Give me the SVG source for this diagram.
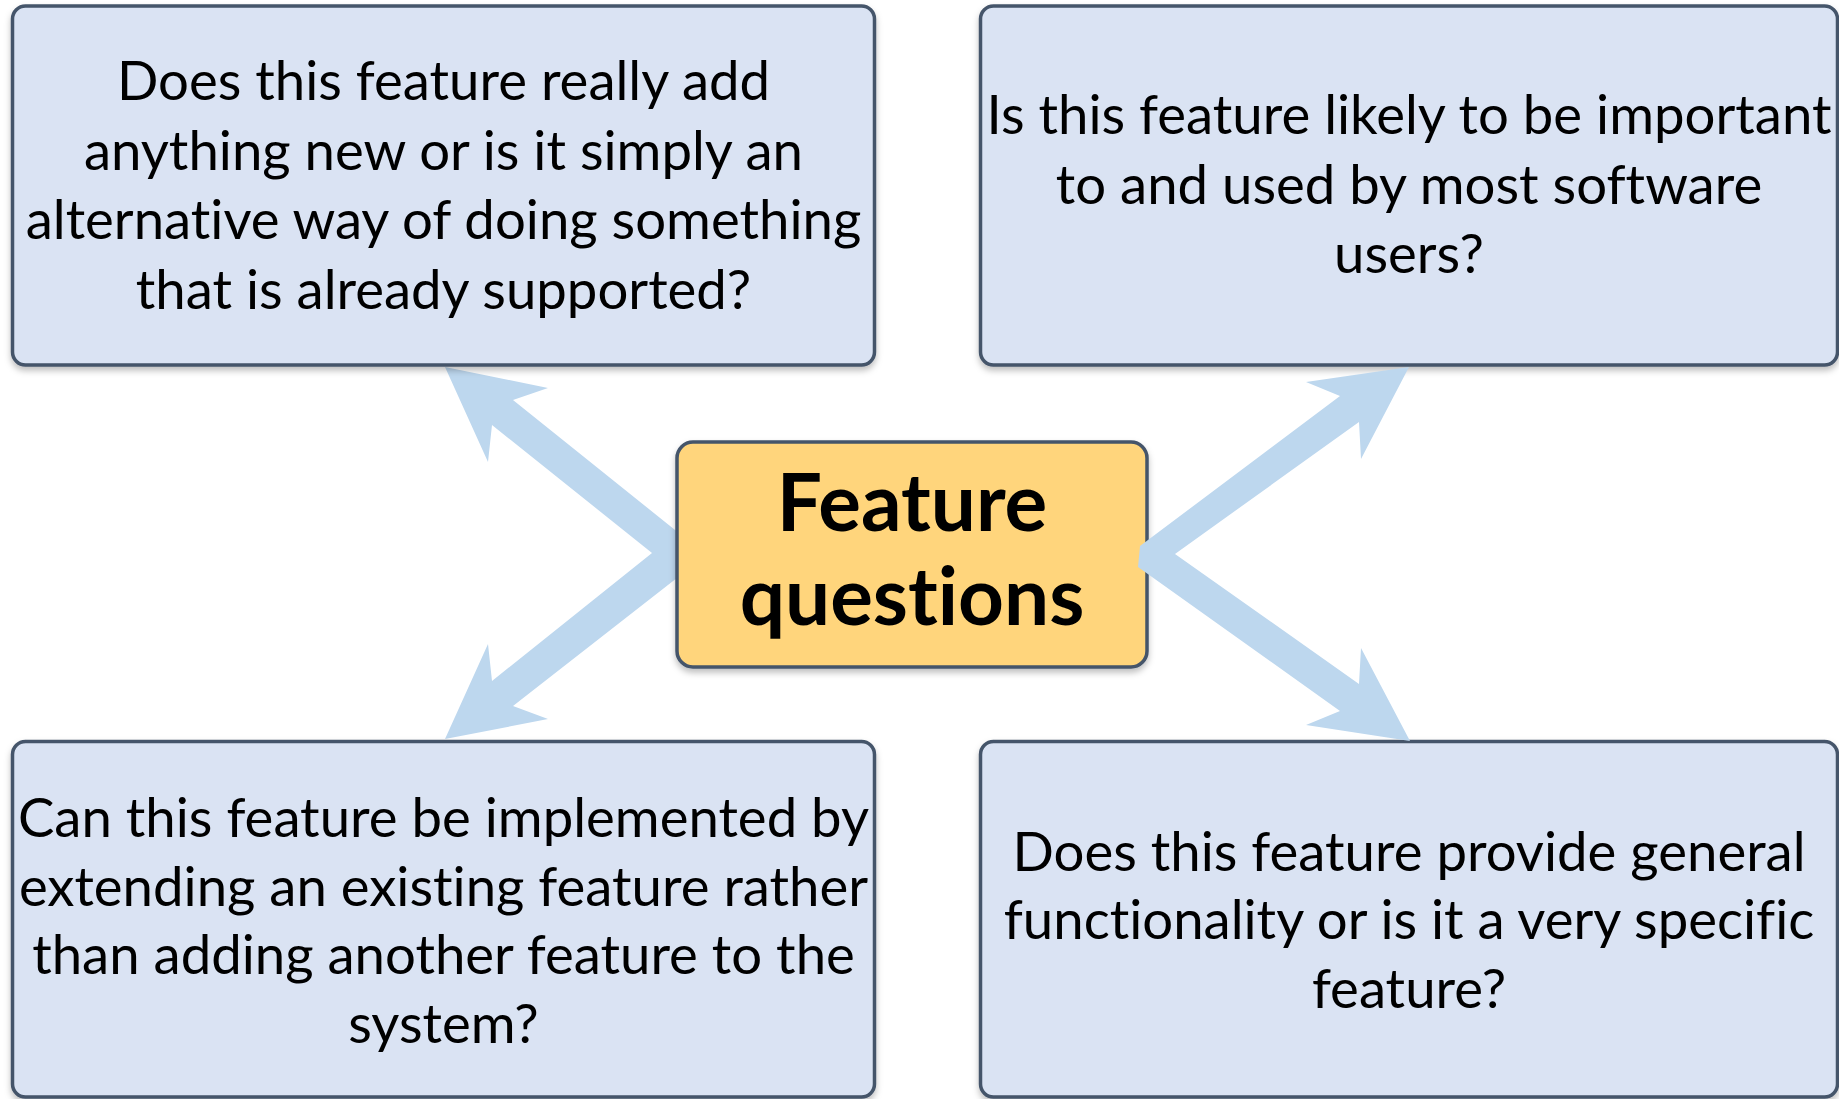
<svg xmlns="http://www.w3.org/2000/svg" width="1839" height="1099" viewBox="0 0 1839 1099">
<style>
.q{fill:#DAE3F3;stroke:#44546A;stroke-width:3.5;filter:url(#sh)}
.c{fill:#FFD57B;stroke:#44546A;stroke-width:3.5;filter:url(#sh)}
.t{font-family:Lato,"Open Sans",sans-serif;font-size:54.5px;fill:#000;text-anchor:middle;font-variant-ligatures:none}
.b{font-family:Lato,"Open Sans",sans-serif;font-weight:bold;font-size:80px;fill:#000;text-anchor:middle;font-variant-ligatures:none}
.a{fill:#BDD7EE}
</style>
<defs>
<filter id="sh" x="-5%" y="-5%" width="110%" height="115%">
<feDropShadow dx="0" dy="4" stdDeviation="3" flood-color="#000" flood-opacity="0.25"/>
</filter>
</defs>
<rect width="1839" height="1099" fill="#fff"/>
<g id="connectors-left">
<polygon class="a" points="700,550 513,400 548,388 445,367 488,462 492,425 652,553 492,681 488,644 445,739 548,719 513,706 700,560"/>
</g>
<g id="n1">
<rect class="q" x="12.5" y="6" width="862" height="359" rx="13"/>
<text class="t" x="443.5" y="100">Does this feature really add</text>
<text class="t" x="443.5" y="169.5">anything new or is it simply an</text>
<text class="t" x="443.5" y="239">alternative way of doing something</text>
<text class="t" x="443.5" y="308.5">that is already supported?</text>
</g>
<g id="n2">
<rect class="q" x="980.5" y="6" width="857" height="359" rx="13"/>
<text class="t" x="1409" y="134">Is this feature likely to be important</text>
<text class="t" x="1409" y="203.5">to and used by most software</text>
<text class="t" x="1409" y="273">users?</text>
</g>
<g id="n3">
<rect class="q" x="12.5" y="741.5" width="862" height="355.5" rx="13"/>
<text class="t" x="443.5" y="837">Can this feature be implemented by</text>
<text class="t" x="443.5" y="905.5">extending an existing feature rather</text>
<text class="t" x="443.5" y="974">than adding another feature to the</text>
<text class="t" x="443.5" y="1043">system?</text>
</g>
<g id="n4">
<rect class="q" x="980.5" y="741.5" width="857" height="355.5" rx="13"/>
<text class="t" x="1409" y="871">Does this feature provide general</text>
<text class="t" x="1409" y="939">functionality or is it a very specific</text>
<text class="t" x="1409" y="1008">feature?</text>
</g>
<g id="center">
<rect class="c" x="677" y="442" width="470" height="225" rx="16"/>
<text class="b" x="912" y="531">Feature</text>
<text class="b" x="912" y="625">questions</text>
</g>
<g id="connectors">
<polygon class="a" points="1140,546 1340,396 1306,382 1409,367 1361,459 1359,422 1175,554 1359,684 1361,648 1410,741 1306,725 1340,711 1138,567"/>
</g>
</svg>
